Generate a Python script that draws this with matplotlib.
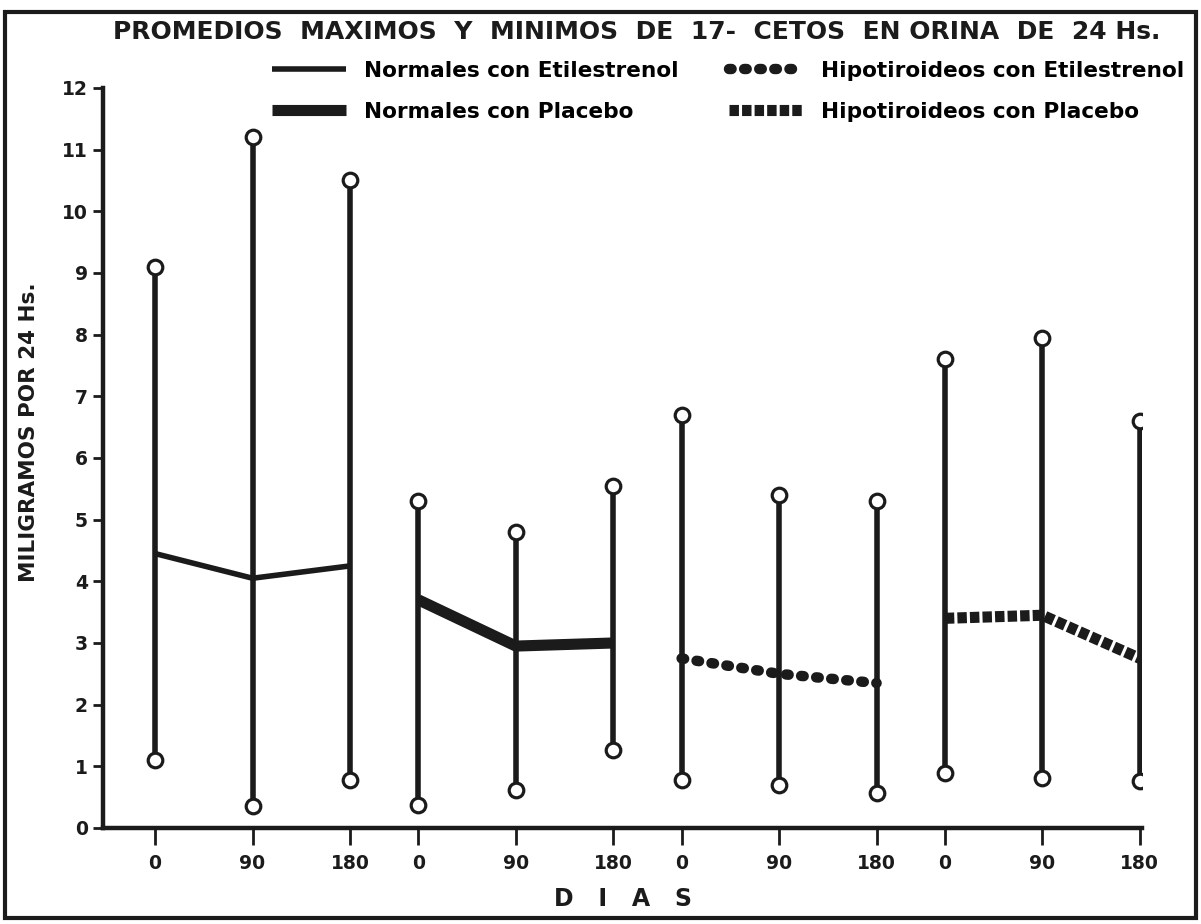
import matplotlib.pyplot as plt
from matplotlib.lines import Line2D
from matplotlib.patches import Rectangle

# ---------------- DATA ----------------

DAYS = [0, 90, 180]
GROUP_GAP = 243  # distance (in day units) between start of each group

LABELS = [
    "Normales con Etilestrenol",
    "Normales con Placebo",
    "Hipotiroideos con Etilestrenol",
    "Hipotiroideos con Placebo",
]

# max / min / mean (mg per 24 h) at 0, 90, 180 days
NE_MAX = [9.1, 11.2, 10.5]
NE_MIN = [1.1, 0.35, 0.78]
NE_MEAN = [4.45, 4.05, 4.25]

NP_MAX = [5.3, 4.8, 5.55]
NP_MIN = [0.37, 0.62, 1.26]
NP_MEAN = [3.7, 2.95, 3.0]

HE_MAX = [6.7, 5.4, 5.3]
HE_MIN = [0.78, 0.7, 0.57]
HE_MEAN = [2.75, 2.5, 2.35]

HP_MAX = [7.6, 7.95, 6.6]
HP_MIN = [0.89, 0.81, 0.76]
HP_MEAN = [3.4, 3.45, 2.75]

Y_TICKS = list(range(0, 13))
X_TICK_LABELS = ["0", "90", "180"] * 4

INK = "#1b1b1b"
NARROW = ["DejaVu Sans Condensed", "Liberation Sans Narrow", "DejaVu Sans"]

# ---------------- PLOT ----------------

fig = plt.figure(figsize=(12.01, 9.24), dpi=100)
fig.patch.set_facecolor("white")
ax = fig.add_axes([0.0858, 0.1039, 0.8651, 0.8009])

groups = [
    (NE_MAX, NE_MIN, NE_MEAN, dict(lw=4, ls="-", dash_capstyle="butt")),
    (NP_MAX, NP_MIN, NP_MEAN, dict(lw=8, ls="-", dash_capstyle="butt")),
    (HE_MAX, HE_MIN, HE_MEAN, dict(lw=7.5, ls=(0, (0.25, 1.2)),
                                   dash_capstyle="round")),
    (HP_MAX, HP_MIN, HP_MEAN, dict(lw=8, ls=(0, (0.85, 0.28)),
                                   dash_capstyle="butt")),
]

xticks = []
for g, (mx, mn, mean, style) in enumerate(groups):
    xs = [g * GROUP_GAP + d for d in DAYS]
    xticks += xs
    ax.vlines(xs, mn, mx, color=INK, lw=4, zorder=2)
    ax.plot(xs, mean, color=INK, solid_capstyle="butt", zorder=3, **style)
    ax.plot(xs, mx, "o", ms=10.5, mfc="white", mec=INK, mew=2.3, zorder=4)
    ax.plot(xs, mn, "o", ms=10.5, mfc="white", mec=INK, mew=2.3, zorder=4)

ax.set_xlim(-48, 911)
ax.set_ylim(0, 12)

ax.set_yticks(Y_TICKS)
ax.set_yticklabels([str(v) for v in Y_TICKS], fontsize=13.5,
                   fontweight="bold", color=INK)
ax.set_xticks(xticks)
ax.set_xticklabels(X_TICK_LABELS, fontsize=13.5, fontweight="bold", color=INK)
ax.tick_params(axis="x", direction="out", length=12, width=2, pad=7,
               colors=INK)
ax.tick_params(axis="y", direction="out", length=7, width=2, pad=4,
               colors=INK)

for side in ["top", "right"]:
    ax.spines[side].set_visible(False)
for side in ["left", "bottom"]:
    ax.spines[side].set_linewidth(3.2)
    ax.spines[side].set_color(INK)

ax.set_ylabel("MILIGRAMOS POR 24 Hs.", fontsize=15.5, fontweight="bold",
              family=NARROW, color=INK)
ax.yaxis.set_label_coords(-0.0616, 0.535)
ax.set_xlabel("D   I   A   S", fontsize=17, fontweight="bold", color=INK,
              labelpad=10)

fig.text(0.530, 0.965,
         "PROMEDIOS  MAXIMOS  Y  MINIMOS  DE  17-  CETOS  EN ORINA  DE  24 Hs.",
         ha="center", va="center", fontsize=18, fontweight="bold",
         family=NARROW, color=INK)

# legend
handles = [Line2D([], [], color=INK, solid_capstyle="butt", **st)
           for *_, st in groups]
fig.legend(handles, LABELS, ncol=2, frameon=False, loc="upper left",
           bbox_to_anchor=(0.2265, 0.934), borderpad=0, borderaxespad=0,
           handlelength=3.4, columnspacing=2.3, labelspacing=0.95,
           handletextpad=0.85,
           prop=dict(family=NARROW, weight="bold", size=15.6))

# scanned page border
fig.add_artist(Rectangle((0.004, 0.007), 0.992, 0.98,
                         transform=fig.transFigure, fill=False,
                         lw=3, color=INK))

fig.savefig("out.png", dpi=100, facecolor="white")
